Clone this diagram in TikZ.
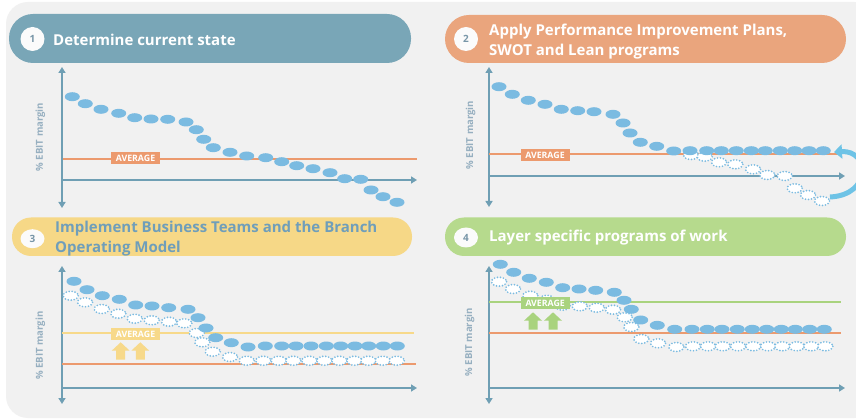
\documentclass[tikz,border=0pt]{standalone}
\usepackage{fontspec}
\setmainfont{Open Sans}
\usetikzlibrary{arrows.meta, shapes.geometric}
\definecolor{panelGray}{RGB}{241,241,241}
\definecolor{axisColor}{RGB}{111,159,180}
\definecolor{dotColor}{RGB}{123,187,225}
\definecolor{stepOne}{RGB}{121,166,183}
\definecolor{stepTwo}{RGB}{234,165,125}
\definecolor{stepThree}{RGB}{246,216,135}
\definecolor{stepFour}{RGB}{182,218,141}
\definecolor{avgOrange}{RGB}{236,154,110}
\definecolor{avgYellow}{RGB}{247,217,138}
\definecolor{avgGreen}{RGB}{169,211,126}
\definecolor{titleBlue}{RGB}{111,158,186}
\definecolor{labelGray}{RGB}{150,175,192}
\definecolor{numText}{RGB}{120,150,168}
\definecolor{loopBlue}{RGB}{110,195,230}

\begin{document}
\begin{tikzpicture}[
  x=1pt, y=-1pt,
  stepnum/.style={ellipse, fill=white!70!panelGray, text=numText, inner sep=0pt,
    minimum width=24pt, minimum height=#1, font=\bfseries\fontsize{10}{10}\selectfont},
  steptitle/.style={anchor=west, align=left, inner sep=0pt, text=white,
    font=\bfseries\fontsize{15}{20}\selectfont},
  axis/.style={draw=axisColor, line width=2.2pt, -{Triangle[length=6pt, width=7pt]}},
  yname/.style={rotate=90, text=labelGray, font=\bfseries\fontsize{9.6}{10}\selectfont},
  avgtag/.style={text=white, inner sep=0pt, minimum width=49pt, minimum height=12pt,
    font=\bfseries\fontsize{8.8}{8.8}\selectfont},
  avgline/.style={line width=2pt},
  dot/.style={fill=dotColor},
  ghost/.style={draw=dotColor, fill=white, line width=1.9pt, line cap=round,
    dash pattern=on 0pt off 3pt},
  upblock/.pic={\path[pic actions] (-4.5,0) -- (-4.5,-9) -- (-9,-9) -- (0,-17.4)
    -- (9,-9) -- (4.5,-9) -- (4.5,0) -- cycle;}
]
\useasboundingbox (0,0) rectangle (856,419);
\clip (0,0) rectangle (856,419);
\fill[white] (0,0) rectangle (856,419);
\fill[panelGray, rounded corners=22pt] (6,2) rectangle (876,418);

\fill[stepOne, rounded corners=24pt] (9,14) rectangle (411,63);
\node[stepnum=24pt] (num1) at (32.5,39) {1};
\node[steptitle] (title1) at (53,39.5) {Determine current state};
\draw[axis, {Triangle[length=6pt, width=7pt]}-{Triangle[length=6pt, width=7pt]}] (62,208) -- (62,67);
\draw[axis] (62,180) -- (417,180);
\node[yname] (ylab1) at (40.5,137) {\% EBIT margin};
\draw[avgline, avgOrange] (63,159) -- (417,159);
\node[avgtag, fill=avgOrange] (avg1) at (135.5,158) {AVERAGE};
\foreach \x/\y in {72.3/96.7, 85.3/103.7, 101/109.3, 118.7/113.3, 134.7/117.7, 151/119,
  167.7/119.3, 186/122, 196.3/129.7, 203.7/139.3, 213.3/147.7, 230/152.3, 246.7/156,
  265.7/157.7, 281.7/161.7, 296.7/165.7, 313/168.7, 330/172.7, 344.7/178.7, 360.7/179.3,
  371/190, 383/196.7, 397/202.3}
  \fill[dot] (\x,\y) ellipse (7.5 and 4.5);

\fill[stepTwo, rounded corners=24pt] (445,15) rectangle (846,63);
\node[stepnum=24pt] (num2) at (466,39) {2};
\node[steptitle] (title2) at (489,41.3) {Apply Performance Improvement Plans,\\SWOT and Lean programs};
\draw[axis, {Triangle[length=6pt, width=7pt]}-{Triangle[length=6pt, width=7pt]}] (489,207) -- (489,67);
\draw[axis] (489,176) -- (845,176);
\node[yname] (ylab2) at (470.7,135) {\% EBIT margin};
\draw[avgline, avgOrange] (489,154) -- (838,154);
\node[avgtag, fill=avgOrange] (avg2) at (545,155) {AVERAGE};
\foreach \x/\y in {691/155, 704.7/156.7, 719/162.3, 735.3/164.3, 753/169.3, 767.3/175,
  784.7/176, 794.7/188.3, 808/195, 822/201}
  \path[ghost] (\x,\y) ellipse (7.5 and 4.5);
\foreach \x/\y in {499/86.7, 512.3/94.3, 528.3/100.3, 545/104.3, 561.3/109.3, 577.7/110.7,
  594/111.7, 613/114.3, 623/123, 630/133, 640.3/142.3, 656.7/146.3, 673.7/151}
  \fill[dot] (\x,\y) ellipse (7.5 and 4.5);
\foreach \x in {690, 706.7, 721.3, 736.3, 751.3, 765.3, 780.3, 794.7, 809, 823.3}
  \fill[dot] (\x,150.7) ellipse (7.5 and 4.5);
\coordinate (loopStart) at (830,197);
\coordinate (loopEnd) at (834,152);
\draw[loopBlue, line width=5pt, -{Triangle[length=8pt, width=14pt]}]
  (loopStart) .. controls (872,195) and (870,150) .. (loopEnd);

\fill[stepThree, rounded corners=19pt] (12,217.5) rectangle (412,256);
\node[stepnum=19pt] (num3) at (32.5,238.7) {3};
\node[steptitle, text=titleBlue] (title3) at (55,239) {Implement Business Teams and the Branch\\Operating Model};
\draw[axis, {Triangle[length=6pt, width=7pt]}-{Triangle[length=6pt, width=7pt]}] (62,404) -- (62,266);
\draw[axis] (62,388) -- (417,388);
\node[yname] (ylab3) at (40.3,345.7) {\% EBIT margin};
\draw[avgline, avgYellow] (62,333.3) -- (414,333.3);
\draw[avgline, avgOrange] (62,364.3) -- (416,364.3);
\node[avgtag, fill=avgYellow] (avg3) at (135.5,334.2) {AVERAGE};
\pic[fill=avgYellow] at (120.7,359.7) {upblock};
\pic[fill=avgYellow] at (140.3,359.7) {upblock};
\foreach \x/\y in {70.7/295.7, 85/302.3, 101.7/309, 118.3/313.7, 134.7/318.7, 151.7/320.3,
  169/321.7, 184.3/323.3, 196.7/333, 202.3/342.3, 212.7/351.7, 230/357, 246.7/360.7}
  \path[ghost] (\x,\y) ellipse (7.5 and 4.5);
\foreach \x in {263.3, 278.7, 293.3, 309.3, 324.3, 339.3, 354.3, 368.3, 382.7, 396.7}
  \path[ghost] (\x,360.7) ellipse (7.5 and 4.5);
\foreach \x/\y in {74/281.3, 87/289.7, 102.3/295.7, 119.3/299.3, 135.7/305, 152/306,
  168.7/307.7, 188/309.3, 198/317.7, 206/328, 215.7/337.7, 231.3/342.7, 248/347}
  \fill[dot] (\x,\y) ellipse (7.5 and 4.5);
\foreach \x in {265.3, 281.7, 296, 311, 326.3, 340.7, 355, 368.7, 383.3, 397.3}
  \fill[dot] (\x,346) ellipse (7.5 and 4.5);

\fill[stepFour, rounded corners=19pt] (445,217.5) rectangle (846,256);
\node[stepnum=20pt] (num4) at (466,237.5) {4};
\node[steptitle] (title4) at (489,237.5) {Layer specific programs of work};
\draw[axis, {Triangle[length=6pt, width=7pt]}-{Triangle[length=6pt, width=7pt]}] (489,404) -- (489,266);
\draw[axis] (489,388) -- (845,388);
\node[yname] (ylab4) at (469.7,342.3) {\% EBIT margin};
\draw[avgline, avgGreen] (489,302.3) -- (841,302.3);
\draw[avgline, avgOrange] (489,333.3) -- (841,333.3);
\foreach \x/\y in {499/281.7, 513/289, 530.3/295.7, 546.7/299.7, 562.7/305.7, 579.7/306.3,
  596.7/307.7, 613/309.7, 624.7/317.3, 631.3/327, 641.3/339, 658/343.3, 676.3/347}
  \path[ghost] (\x,\y) ellipse (7.5 and 4.5);
\foreach \x in {693, 708, 722.7, 738, 753.3, 768, 782.3, 796.7, 811.3, 825.3}
  \path[ghost] (\x,346.3) ellipse (7.5 and 4.5);
\foreach \x/\y in {500.3/264.3, 513.7/272.3, 529.3/278.3, 546.3/282.3, 562.7/287.7, 579/289,
  595.7/290.3, 614.3/292.3, 624/300.3, 631.3/309.3, 640.7/320, 657.3/325.3, 674.7/329.3}
  \fill[dot] (\x,\y) ellipse (7.5 and 4.5);
\foreach \x in {692, 707.3, 722, 737.3, 752.3, 766.7, 781.3, 795.3, 809.7, 824.3}
  \fill[dot] (\x,329.3) ellipse (7.5 and 4.5);
\node[avgtag, fill=avgGreen] (avg4) at (545.2,303.2) {AVERAGE};
\pic[fill=avgGreen] at (533,329.7) {upblock};
\pic[fill=avgGreen] at (553,329.7) {upblock};
\end{tikzpicture}
\end{document}
